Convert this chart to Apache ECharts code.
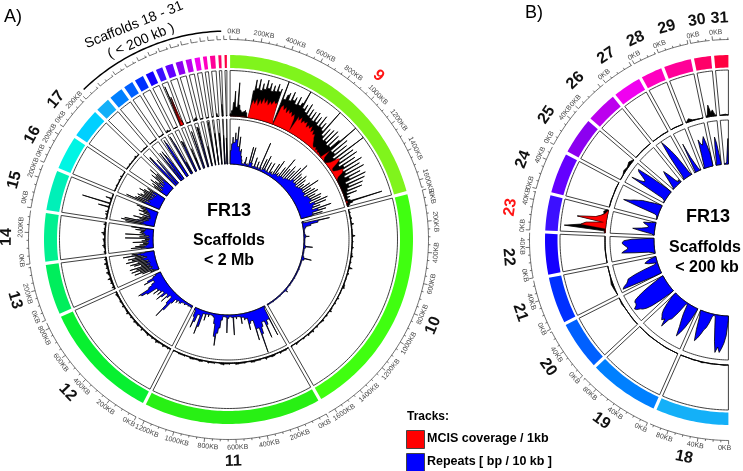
<!DOCTYPE html>
<html><head><meta charset="utf-8">
<style>html,body{margin:0;padding:0;background:#fff}#c{width:743px;height:471px}</style>
<script src="https://cdn.jsdelivr.net/npm/echarts@6/dist/echarts.min.js"></script>
</head><body><div id="c"></div>
<script>
// scaffold names and sizes (kb)
const namesLarge=['9','10','11','12','13','14','15','16','17'];
const namesSmall=['18','19','20','21','22','23','24','25','26','27','28','29','30','31'];
const kbLarge=[1650,1645,1240,838,355,340,283,239,210];
const kbSmall=[105,101,70,67,59,51,58,53,45,41,31,40,25,21];
const colLarge=['#80F41C','#40FF10','#28F014','#08F030','#00EE5C','#00F090','#00F0B8','#00F5E4','#00D0FF'];
const colSmall=['#14B0F8','#0080FF','#0060FF','#0030FF','#1400FF','#3C10FF','#6400FF','#8C00F0','#BC00EE','#F000F0','#FF00C0','#FF0098','#FF0068','#FF0040'];
const redNames=['9','23'];
const tickLabelUnit='KB';

// track 1: read depth, % of track height
const depth9=[5,12,30,55,20,74,25,14,10,12,15,10,0,60,85,66,88,64,80,68,90,72,85,68,82,70,88,72,80,4,100,60,72,78,62,84,66,75,60,80,62,70,100,60,72,55,78,52,70,50,68,48,72,50,66,46,74,48,62,44,100,36,58,30,62,32,66,28,60,30,55,100,26,68,28,60,20,100,22,66,26,70,20,60,28,72,22,62,24,68,18,55,26,64,14,58,18,50,12,45,8,30,6,12,5,10,82,14,6,3];
const depth10=[1,3,1,4,1,6,1,2,1,7,1,3,1,4,1,2,5,1,3,1,8,1,4,1,2,1,3,5,1,2,1,4,1,3,1,2,5,1,3,1,4,2,1,3,1,5,2,4,1,3,1,2,4,1,3];
const depth11=[1,3,2,4,1,3,4,2,5,1,3,2,4,3,1,3,2,3,4,1,3,2,5,3,1,3,2,4,1,3,4,2,3,4,1,3,2,3,1,3];
const depth12=[2,4,2,5,2,3,6,2,4,2,5,3,2,6,2,4,3,5,2,4,2,6,3,2,5,2,4,2,3,5,2];
const depth13=[2,6,2,5,3,8,2,4,7,2,5,3,7,2,5,2];
const depth14=[2,4,1,3,6,2,3,5,1,4,8,2,3,1,5,2];
const depth15=[1,3,1,2,5,1,6,2,1,2,25,2,1,64,2,1,3,14,1,1,2,1];
const depth16=[1,2,1,3,1,1,3,1,4,1,1,2];
const depth17=[1,2,1,3,1,2,1,2,4,1,2];
const depth18=[0,1,0,0,1,0,2,0,1,0,0,1];
const depth19=[0,0,1,0,0,1,0,0];
const depth20=[0,1,0,0,2,0];
const depth21=[0,2,4,1,0,0];
const depth22=[0,0,1,0,0];
const depth23=[1,3,92,56,45,8,66,25,14,8,10,4];
const depth24=[0,1,0,1,0];
const depth25=[0,0,4,2,6,1];
const depth26=[0,1,0];
const depth27=[0,0,1,0];
const depth28=[0,1,0,0];
const depth29=[0,7,2,1,0,0];
const depth30=[0,6,26,8,14,4,0];
const depth31=[0,1,2,0];
// track 1: MCIS coverage, % of track height
const mcis9=[0,0,0,0,0,0,0,0,0,0,0,0,0,28,40,32,45,30,44,35,50,38,48,36,46,40,50,44,48,10,0,42,48,38,46,34,44,36,42,32,40,30,4,40,32,42,30,38,34,40,28,36,30,38,26,34,24,28,20,16,10,6,4,8,3,6,2,4,2,2,0,24,6,2,0,0,4,10,28,30,20,6,3,4,12,24,22,18,6,2,0,0,0,0,0,0,0,0,0,0,0,0,0,0,0,0,4,0,0,0];
const mcis23=[1,1,1,55,44,6,64,24,13,6,3,0];
// track 2: repeats, % of track height
const rep9=[30,45,60,48,70,55,84,40,62,30,35,20,12,4,3,8,20,4,6,3,45,10,45,10,3,4,25,5,3,18,6,3,66,8,3,30,6,40,8,5,28,6,5,30,8,12,6,35,10,46,12,18,10,36,14,63,15,40,14,52,18,44,20,58,22,72,28,50,24,46,26,55,22,48,25,40,28,52,30,71,28,48,30,55,26,60,32,50,34,62,36,58,30,72,40,66,34,50,30,74,42,60,28,50,26];
const rep10=[3,62,35,18,6,3,2,2,4,12,3,2,2,2,3,20,4,2,2,2,2,4,22,6,2,2,2,2,2,3,2,2,2,2,2,3,2,2,2,2,3,2,2,3,8,3,2,2,2,3,2,2,2,2,3,2,2,2,2];
const rep11=[3,71,30,40,70,30,40,55,98,40,66,20,25,39,12,15,8,22,6,5,10,5,45,6,4,8,40,5,4,12,30,42,70,50,22,8,5,4,10,5,20,6,37,55,12,30,45,20,6];
const rep12=[4,5,4,6,4,5,8,5,6,10,12,8,15,10,22,45,66,30,12,20,35,15,28,40,18,32,22,38,25,50,62,68,40,30,22,45,35,20,12];
const rep13=[5,20,10,38,14,55,20,42,12,60,18,48,15,62,22,35,14,50,20,58,16,40,25,66,30,52,18,60,24,44,30,70,38,50,20];
const rep14=[15,28,50,20,40,15,30,12,22,10,45,14,25,10,18,8,62,14,30,9,20,62,18,25,30,22,28,20,40,18,30,50];
const rep15=[20,65,30,75,25,68,40,20,35,15,50,18,30,12,25,38,14,20,30,16,42,20,34,24,40,28,50,30];
const rep16=[40,80,35,60,25,55,45,30,58,28,52,24,45,30,48,22,60,30,50,20,38,30,45,25];
const rep17=[20,35,18,42,15,30,50,22,40,18,32,28,55,20,46,25,65,30,48,20];
const rep18=[10,45,62,74,84,72,85,60,30,5,2,6,22,34,40,52,62,70,45,15,2];
const rep19=[5,30,50,65,77,55,40,25,4,3,30,50,55,77,60,66,60,55,46,30,10];
const rep20=[5,35,58,72,80,84,92,95,88,85,86,82,70,55,38,20,4];
const rep21=[20,95,90,82,78,75,58,35,8,3,20,28,22,14,2];
const rep22=[2,5,15,45,75,70,62,60,64,68,72,72,68,50,5];
const rep23=[2,6,20,35,50,30,18,15,18,25,28,10,2];
const rep24=[1,1,2,3,8,45,86,72,64,54,46,30,18,5];
const rep25=[1,1,2,8,92,72,62,64,74,86,90,55,12];
const rep26=[1,3,12,22,35,44,30,12,4,8,1];
const rep27=[1,6,60,98,85,70,52,28,5,1];
const rep28=[1,2,70,35,20,8,2,1];
const rep29=[1,5,30,66,55,52,62,70,50,30];
const rep30=[2,8,40,64,50,25,6];
const rep31=[1,1,2,5,30,58];

const depthAll=[depth9,depth10,depth11,depth12,depth13,depth14,depth15,depth16,depth17,depth18,depth19,depth20,depth21,depth22,depth23,depth24,depth25,depth26,depth27,depth28,depth29,depth30,depth31];
const repAll=[rep9,rep10,rep11,rep12,rep13,rep14,rep15,rep16,rep17,rep18,rep19,rep20,rep21,rep22,rep23,rep24,rep25,rep26,rep27,rep28,rep29,rep30,rep31];
const mcisAll={'9':mcis9,'23':mcis23};

const RAD=Math.PI/180, G=0.8, HALF=1.6;
function layout(names,kbs,cols,a0,a1,depths,reps){
  const tot=kbs.reduce((p,c)=>p+c,0);
  const s=((a1-a0)-names.length*G)/tot;
  let a=a0;
  return {s,items:names.map((n,i)=>{const span=kbs[i]*s+G;const it={name:n,kb:kbs[i],col:cols[i],a0:a,a1:a+span,s,depth:depths[i],rep:reps[i],mcis:mcisAll[n],sharp:namesLarge.includes(n)};a+=span;return it;})};
}
const A=layout(namesLarge.concat(namesSmall),kbLarge.concat(kbSmall),colLarge.concat(colSmall),0,360,depthAll,repAll);
const B=layout(namesSmall,kbSmall,colSmall,180,360,depthAll.slice(9),repAll.slice(9));
const cfgA={p:A,polar:0,ring:[171.5,184.5],t1:[123.5,169],t2:[75.5,120.5],axis:200,minor:50,major:200,minLabelKb:200,labelMargin:0,labR:208,numR:222};
const cfgB={p:B,polar:1,ring:[172.5,185],t1:[125,170],t2:[76,120],axis:200.5,minor:10,major:40,minLabelKb:0,labelMargin:8,labR:208,numR:222};
// label offsets along the arc (degrees) for crowded scaffold ends
const labelNudge={'9:1600':1.0,'10:0':2.6,'11:0':1.7,'13:0':1.9,'14:0':1.2,'14:200':1.4,'15:0':2.6,'15:200':2.1,'16:0':2.6,'16:200':-1,'17:0':1.8,'17:200':-1.2};

function gapDeg(r){return HALF/r/RAD;}
function arcPts(api,r,a,b){
  const n=Math.max(1,Math.ceil(Math.abs(b-a)));const out=[];
  for(let i=0;i<=n;i++){out.push(api.coord([r,a+(b-a)*i/n]).slice(0,2));}
  return out;
}
function sectorPts(api,ri,ro,a,b){
  return arcPts(api,ro,a+gapDeg(ro),b-gapDeg(ro)).concat(arcPts(api,ri,b-gapDeg(ri),a+gapDeg(ri)));
}
function profile(api,vals,a,b,r0,h,sharp){
  const g=gapDeg(r0), st=a+g, en=b-g, pts=[];
  pts.push(api.coord([r0,st]).slice(0,2));
  const n=vals.length, dt=(en-st)/Math.max(1,n-1);
  const P=(v,t)=>pts.push(api.coord([r0+h*v/100,t]).slice(0,2));
  vals.forEach((v,i)=>{
    const t=st+dt*i;P(v,t);
    if(sharp&&i<n-1){const low=Math.min(v,vals[i+1]);P(low,t+sharp*dt);P(low,t+dt*(1-sharp));}
  });
  return pts.concat(arcPts(api,r0,en,st));
}
function tangentRot(th){
  let d=th;
  if(th>90&&th<=270)d=th-180; else if(th>270)d=th-360;
  return -d*RAD;
}
const ringRender=cfg=>(params,api)=>{const it=cfg.p.items[params.dataIndex];
  return {type:'polygon',shape:{points:sectorPts(api,cfg.ring[0],cfg.ring[1],it.a0,it.a1)},style:{fill:it.col,stroke:null}};};
const boxRender=cfg=>(params,api)=>{const it=cfg.p.items[params.dataIndex];
  const sty={fill:null,stroke:'#2a2a2a',lineWidth:0.9};
  return {type:'group',children:[cfg.t1,cfg.t2].map(t=>({type:'polygon',shape:{points:sectorPts(api,t[0],t[1],it.a0,it.a1)},style:sty}))};};
const trackRender=cfg=>(params,api)=>{const it=cfg.p.items[params.dataIndex];
  const h1=cfg.t1[1]-cfg.t1[0],h2=cfg.t2[1]-cfg.t2[0];
  const ch=[];
  const lw=0.8;
  const big=cfg.polar===0&&it.sharp;
  ch.push({type:'polygon',shape:{points:profile(api,it.depth,it.a0,it.a1,cfg.t1[0],h1,big?0.28:0)},style:{fill:'#000',stroke:'#000',lineWidth:lw,lineJoin:'round'}});
  if(it.mcis)ch.push({type:'polygon',shape:{points:profile(api,it.mcis,it.a0,it.a1,cfg.t1[0],h1,0)},style:{fill:'#FF0000',stroke:'#400',lineWidth:0.3,lineJoin:'round'}});
  ch.push({type:'polygon',shape:{points:profile(api,it.rep,it.a0,it.a1,cfg.t2[0],h2,big?0.18:0)},style:{fill:'#0000FF',stroke:'#000',lineWidth:lw,lineJoin:'round'}});
  return {type:'group',children:ch};};
function labelShift(cfg,it,k,th){
  const key=it.name+':'+k;
  if(cfg.polar===0&&key in labelNudge)return labelNudge[key];
  if(k===0)return 1.1;
  if(th>90&&th<=180&&cfg.polar===0)return 0.4-0.0013*k;
  if(th>180&&th<270&&cfg.polar===0)return -0.0015*k;
  return 0.4;
}
const axisRender=cfg=>(params,api)=>{const it=cfg.p.items[params.dataIndex];
  const st=it.a0+G/2,ch=[];
  const en=st+it.kb*it.s;
  ch.push({type:'polyline',shape:{points:arcPts(api,cfg.axis,st,en)},style:{fill:null,stroke:'#333',lineWidth:0.7}});
  for(let k=0;k<=it.kb;k+=cfg.minor){
    const th=st+k*it.s,maj=(k%cfg.major===0);
    const p=api.coord([cfg.axis,th]),q=api.coord([cfg.axis+(maj?4:2),th]);
    ch.push({type:'line',shape:{x1:p[0],y1:p[1],x2:q[0],y2:q[1]},style:{stroke:'#333',lineWidth:0.7}});
    if(maj&&it.kb>=cfg.minLabelKb&&k<=it.kb-cfg.labelMargin){
      const thl=th+labelShift(cfg,it,k,th),c=api.coord([cfg.labR,thl]);
      ch.push({type:'text',x:c[0],y:c[1],rotation:tangentRot(thl),style:{text:k+tickLabelUnit,x:0,y:0,align:'center',verticalAlign:'middle',font:'7px "Liberation Sans"',fill:'#444'}});
    }
  }
  const showNum=cfg.polar===1||!namesSmall.includes(it.name);
  if(showNum){
    let th=(it.a0+it.a1)/2;
    if(it.name==='9')th=42.5;
    const c=api.coord([cfg.numR,th]);
    const red=redNames.includes(it.name);
    ch.push({type:'text',x:c[0],y:c[1],rotation:tangentRot(th),style:{text:it.name,x:0,y:0,align:'center',verticalAlign:'middle',font:'bold 16px "Liberation Sans"',fill:red?'#FF1414':'#111'}});
  }
  return {type:'group',children:ch};};

function seriesFor(cfg){
  const data=cfg.p.items.map(it=>[cfg.t1[1],(it.a0+it.a1)/2]);
  return [ringRender,boxRender,trackRender,axisRender].map(fn=>({type:'custom',coordinateSystem:'polar',polarIndex:cfg.polar,data,renderItem:fn(cfg),silent:true,animation:false,clip:false}));
}
const bracketRange=[316,358];
const bracketSeries={type:'custom',coordinateSystem:'polar',polarIndex:0,silent:true,animation:false,
  data:[[208.5,bracketRange[0]]],
  renderItem:(params,api)=>({type:'polyline',shape:{points:arcPts(api,208.5,bracketRange[0],bracketRange[1])},style:{fill:null,stroke:'#000',lineWidth:1.5}})};
const hiddenAxis={axisLine:{show:false},axisTick:{show:false},axisLabel:{show:false},splitLine:{show:false},splitArea:{show:false}};
function txt(t,x,y,font,extra){return Object.assign({type:'text',x:x,y:y,silent:true,style:{text:t,x:0,y:0,align:'center',verticalAlign:'middle',font:font,fill:'#000'}},extra||{});}
const option={
  animation:false,backgroundColor:'#fff',
  polar:[{center:[228.5,239.5],radius:240},{center:[730,240],radius:240}],
  angleAxis:[0,1].map(i=>Object.assign({polarIndex:i,type:'value',min:0,max:360,startAngle:90,clockwise:true},hiddenAxis)),
  radiusAxis:[0,1].map(i=>Object.assign({polarIndex:i,type:'value',min:0,max:240},hiddenAxis)),
  series:seriesFor(cfgA).concat(seriesFor(cfgB),[bracketSeries]),
  graphic:{elements:[
    txt('A)',13,17,'18px "Liberation Sans"'),
    txt('B)',534,13,'18px "Liberation Sans"'),
    txt('FR13',229,211,'bold 18px "Liberation Sans"'),
    txt('Scaffolds',229,241,'bold 16px "Liberation Sans"'),
    txt('< 2 Mb',229,261,'bold 16px "Liberation Sans"'),
    txt('FR13',708,217,'bold 18px "Liberation Sans"'),
    txt('Scaffolds',705,248,'bold 16px "Liberation Sans"'),
    txt('< 200 kb',707,268,'bold 16px "Liberation Sans"'),
    txt('Scaffolds 18 - 31',134,25,'14px "Liberation Sans"',{rotation:22*RAD}),
    txt('( < 200 kb )',141,41,'14px "Liberation Sans"',{rotation:23*RAD}),
    {type:'text',x:407,y:417,silent:true,style:{text:'Tracks:',x:0,y:0,align:'left',verticalAlign:'middle',font:'bold 12px "Liberation Sans"',fill:'#000'}},
    {type:'rect',shape:{x:406.5,y:430.5,width:18,height:18},silent:true,style:{fill:'#FF0000',stroke:'#444',lineWidth:1}},
    {type:'rect',shape:{x:406.5,y:453.5,width:18,height:18},silent:true,style:{fill:'#0000FF',stroke:'#444',lineWidth:1}},
    {type:'text',x:427,y:439,silent:true,style:{text:'MCIS coverage / 1kb',x:0,y:0,align:'left',verticalAlign:'middle',font:'bold 12.5px "Liberation Sans"',fill:'#000'}},
    {type:'text',x:427,y:462,silent:true,style:{text:'Repeats [ bp / 10 kb ]',x:0,y:0,align:'left',verticalAlign:'middle',font:'bold 12.5px "Liberation Sans"',fill:'#000'}}
  ]}
};
const chart=echarts.init(document.getElementById('c'),null,{renderer:'canvas',width:743,height:471});
chart.setOption(option);
</script></body></html>
